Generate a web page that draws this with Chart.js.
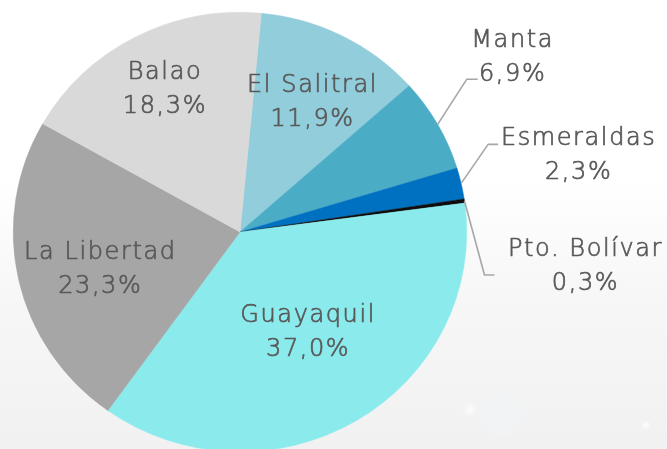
<!DOCTYPE html>
<html>
<head>
<meta charset="utf-8">
<script src="https://cdn.jsdelivr.net/npm/chart.js@4"></script>
<style>
  html, body { margin: 0; padding: 0; width: 667px; height: 449px; overflow: hidden; }
  body {
    background:
      radial-gradient(circle at 470px 410px, rgba(255,255,255,0.8) 0, rgba(255,255,255,0.6) 2px, rgba(255,255,255,0) 8px),
      radial-gradient(circle at 502px 415px, rgba(240,244,245,0.6) 0, rgba(240,244,245,0.4) 19px, rgba(255,255,255,0) 23px),
      radial-gradient(circle at 646px 425px, rgba(255,255,255,0.9) 0, rgba(255,255,255,0) 5px),
      linear-gradient(to bottom, #ffffff 0%, #ffffff 40%, #f7f7f8 65%, #f1f1f2 100%);
  }
  #wrap { position: absolute; left: 0; top: 0; width: 667px; height: 464px; }
</style>
</head>
<body>
<div id="wrap"><canvas id="c" width="667" height="464"></canvas></div>
<script>
// ---- data ----
const categories = ['El Salitral', 'Manta', 'Esmeraldas', 'Pto. Bolívar', 'Guayaquil', 'La Libertad', 'Balao'];
const shares = [11.9, 6.9, 2.3, 0.3, 37.0, 23.3, 18.3];
const sliceColors = ['#92CDDC', '#4BACC6', '#0070C0', '#0D0D0D', '#8AEAEC', '#A6A6A6', '#D9D9D9'];

// ---- layout / style ----
const FONT_SIZE = 24;
const FONT = '300 ' + FONT_SIZE + 'px "DejaVu Sans", "Open Sans", sans-serif';
const TEXT_COLOR = '#595959';
const LINE_GAP = 34;
const Y_SCALE = 220 / 227;            // slightly flattened pie, as in the reference
const labelLayout = {
  'El Salitral':  { f: 0.69,  dx: 2, dy: 4 },
  'Guayaquil':    { f: 0.55,  dx: 4, dy: -5 },
  'La Libertad':  { f: 0.64,  dx: 2, dy: 5 },
  'Balao':        { f: 0.725, dx: 1, dy: -3 },
  'Manta':        { elbow: [29, -45], run: 11, text: [35, -24.5] },
  'Esmeraldas':   { elbow: [27, -39], run: 10, text: [80.5, 9] },
  'Pto. Bolívar': { elbow: [20, 74],  run: 10, text: [91, -10.5] }
};

function fmtPct(v) { return v.toFixed(1).replace('.', ',') + '%'; }

const flatten = {
  id: 'flatten',
  beforeDatasetsDraw(chart) {
    const a = chart.getDatasetMeta(0).data[0];
    const ctx = chart.ctx;
    ctx.save();
    ctx.translate(a.x, a.y);
    ctx.scale(1, Y_SCALE);
    ctx.translate(-a.x, -a.y);
  },
  afterDatasetsDraw(chart) { chart.ctx.restore(); }
};

const labels = {
  id: 'sliceLabels',
  afterDraw(chart) {
    const ctx = chart.ctx;
    const meta = chart.getDatasetMeta(0);
    ctx.save();
    ctx.font = FONT;
    ctx.fillStyle = TEXT_COLOR;
    ctx.strokeStyle = TEXT_COLOR;
    ctx.lineWidth = 0.7;
    ctx.lineJoin = 'round';
    ctx.textAlign = 'center';
    ctx.textBaseline = 'alphabetic';
    if ('letterSpacing' in ctx) ctx.letterSpacing = '1.6px';
    const capHalf = FONT_SIZE * 0.73 / 2;
    const put = (t, x, y) => { ctx.fillText(t, x, y); ctx.strokeText(t, x, y); };
    meta.data.forEach((arc, i) => {
      const p = arc.getProps(['x', 'y', 'startAngle', 'endAngle', 'outerRadius'], true);
      const mid = (p.startAngle + p.endAngle) / 2;
      const ux = Math.cos(mid), uy = Math.sin(mid) * Y_SCALE;
      const name = categories[i];
      const L = labelLayout[name];
      let cx, cy;
      if (L.f !== undefined) {
        cx = p.x + ux * p.outerRadius * L.f + L.dx;
        cy = p.y + uy * p.outerRadius * L.f + L.dy;
      } else {
        const ex = p.x + ux * p.outerRadius, ey = p.y + uy * p.outerRadius;
        const bx = ex + L.elbow[0], by = ey + L.elbow[1];
        const tx = bx + L.run;
        ctx.save();
        ctx.strokeStyle = '#A6A6A6';
        ctx.lineWidth = 1.6;
        ctx.beginPath();
        ctx.moveTo(ex, ey);
        ctx.lineTo(bx, by);
        ctx.lineTo(tx, by);
        ctx.stroke();
        ctx.restore();
        cx = tx + L.text[0];
        cy = by + L.text[1];
      }
      put(name, cx, cy - LINE_GAP / 2 + capHalf);
      put(fmtPct(shares[i]), cx, cy + LINE_GAP / 2 + capHalf);
    });
    ctx.restore();
  }
};

new Chart(document.getElementById('c'), {
  type: 'pie',
  data: {
    labels: categories,
    datasets: [{
      data: shares,
      backgroundColor: sliceColors,
      borderColor: sliceColors,
      borderWidth: 0.5
    }]
  },
  options: {
    responsive: false,
    animation: false,
    rotation: 5.4,
    layout: { padding: { left: 13, top: 5, right: 200, bottom: 5 } },
    plugins: { legend: { display: false }, tooltip: { enabled: false } }
  },
  plugins: [flatten, labels]
});
</script>
</body>
</html>
